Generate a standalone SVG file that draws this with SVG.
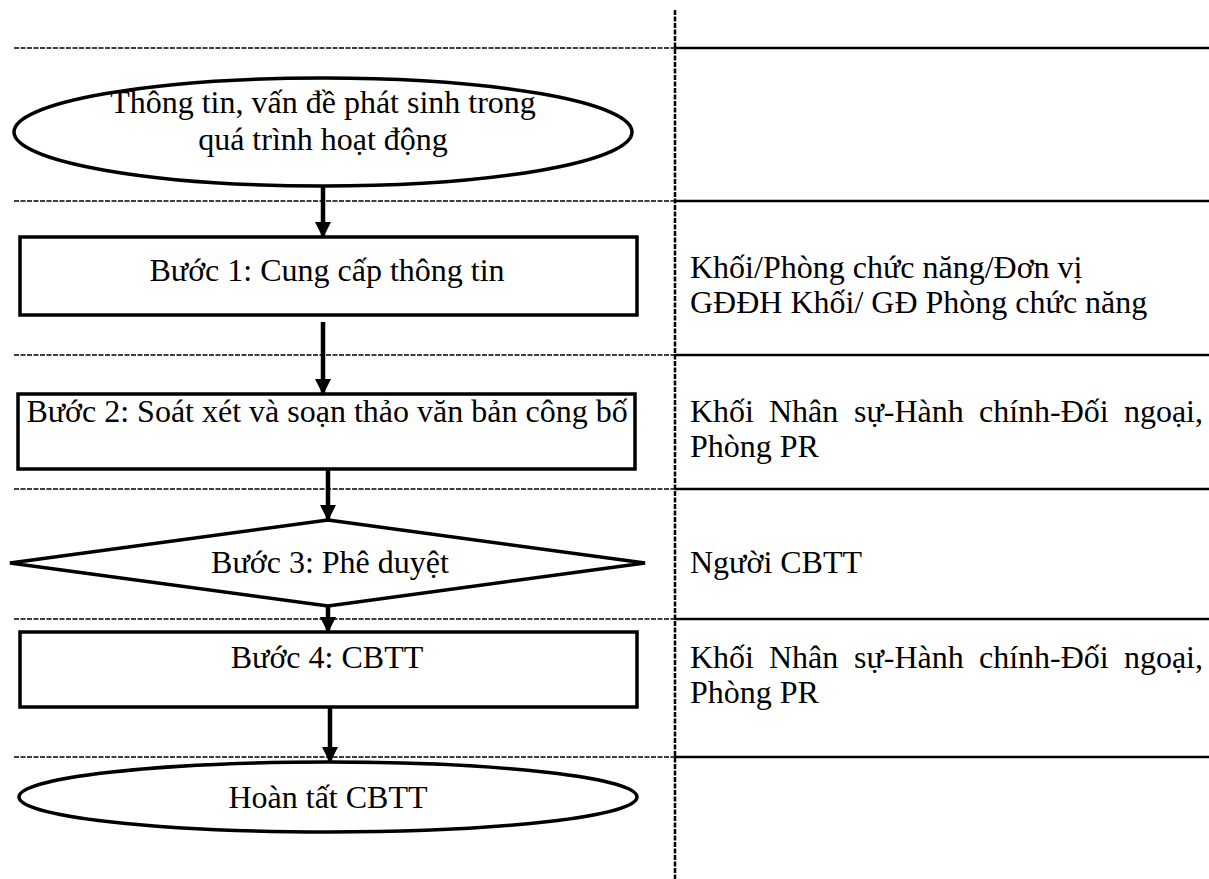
<svg xmlns="http://www.w3.org/2000/svg" width="1209" height="879" viewBox="0 0 1209 879">
<style>
.t{font-family:"Liberation Serif","Times New Roman",serif;font-size:32px;fill:#000}
.c{text-anchor:middle}
.dash{stroke:#000;stroke-width:1.3;stroke-dasharray:5 1.5;fill:none}
.solid{stroke:#000;stroke-width:2.5;fill:none}
.shape{stroke:#000;stroke-width:3.5;fill:#fff}
.conn{stroke:#000;stroke-width:4.5;fill:none}
</style>
<defs>
<marker id="ah" markerUnits="userSpaceOnUse" markerWidth="16" markerHeight="18" refX="14" refY="8" orient="auto">
<path d="M0,0 L16,8 L0,16 Z" fill="#000"/>
</marker>
</defs>
<rect width="1209" height="879" fill="#fff"/>
<g id="grid">
<line class="dash" x1="14" y1="48" x2="675" y2="48"/>
<line class="dash" x1="14" y1="201" x2="675" y2="201"/>
<line class="dash" x1="14" y1="355" x2="675" y2="355"/>
<line class="dash" x1="14" y1="489" x2="675" y2="489"/>
<line class="dash" x1="14" y1="619" x2="675" y2="619"/>
<line class="dash" x1="14" y1="757" x2="675" y2="757"/>
<line class="solid" x1="675" y1="48" x2="1209" y2="48"/>
<line class="solid" x1="675" y1="201" x2="1209" y2="201"/>
<line class="solid" x1="675" y1="355" x2="1209" y2="355"/>
<line class="solid" x1="675" y1="489" x2="1209" y2="489"/>
<line class="solid" x1="675" y1="619" x2="1209" y2="619"/>
<line class="solid" x1="675" y1="757" x2="1209" y2="757"/>
<line stroke="#000" stroke-width="2.5" stroke-dasharray="5 1.5" x1="675" y1="10" x2="675" y2="879"/>
</g>
<g id="connectors">
<line class="conn" x1="323" y1="187" x2="323" y2="236" marker-end="url(#ah)"/>
<line class="conn" x1="323" y1="322" x2="323" y2="393" marker-end="url(#ah)"/>
<line class="conn" x1="328" y1="469" x2="328" y2="519" marker-end="url(#ah)"/>
<line class="conn" x1="328" y1="606" x2="328" y2="631" marker-end="url(#ah)"/>
<line class="conn" x1="330" y1="707" x2="330" y2="761" marker-end="url(#ah)"/>
</g>
<g id="start">
<ellipse class="shape" cx="323" cy="132" rx="309" ry="54"/>
<text class="t c" x="323" y="113">Thông tin, vấn đề phát sinh trong</text>
<text class="t c" x="323" y="150">quá trình hoạt động</text>
</g>
<g id="step1">
<rect class="shape" x="20" y="237" width="617" height="78"/>
<text class="t c" x="327" y="281">Bước 1: Cung cấp thông tin</text>
</g>
<g id="step2">
<rect class="shape" x="18" y="394" width="617" height="75"/>
<text class="t c" x="327" y="422">Bước 2: Soát xét và soạn thảo văn bản công bố</text>
</g>
<g id="step3">
<polygon class="shape" points="328,520 645,563 328,606 10,563"/>
<text class="t c" x="330" y="573">Bước 3: Phê duyệt</text>
</g>
<g id="step4">
<rect class="shape" x="20" y="632" width="617" height="75"/>
<text class="t c" x="327" y="668">Bước 4: CBTT</text>
</g>
<g id="end">
<ellipse class="shape" cx="328" cy="797" rx="309" ry="35"/>
<text class="t c" x="328" y="808">Hoàn tất CBTT</text>
</g>
<g id="roles">
<text class="t" x="690" y="278">Khối/Phòng chức năng/Đơn vị</text>
<text class="t" x="690" y="313">GĐĐH Khối/ GĐ Phòng chức năng</text>
<text class="t" y="422"><tspan x="690">Khối</tspan><tspan x="769">Nhân</tspan><tspan x="854">sự-Hành</tspan><tspan x="979">chính-Đối</tspan><tspan x="1203" text-anchor="end">ngoại,</tspan></text>
<text class="t" x="690" y="457">Phòng PR</text>
<text class="t" x="690" y="573">Người CBTT</text>
<text class="t" y="668"><tspan x="690">Khối</tspan><tspan x="769">Nhân</tspan><tspan x="854">sự-Hành</tspan><tspan x="979">chính-Đối</tspan><tspan x="1203" text-anchor="end">ngoại,</tspan></text>
<text class="t" x="690" y="703">Phòng PR</text>
</g>
</svg>
